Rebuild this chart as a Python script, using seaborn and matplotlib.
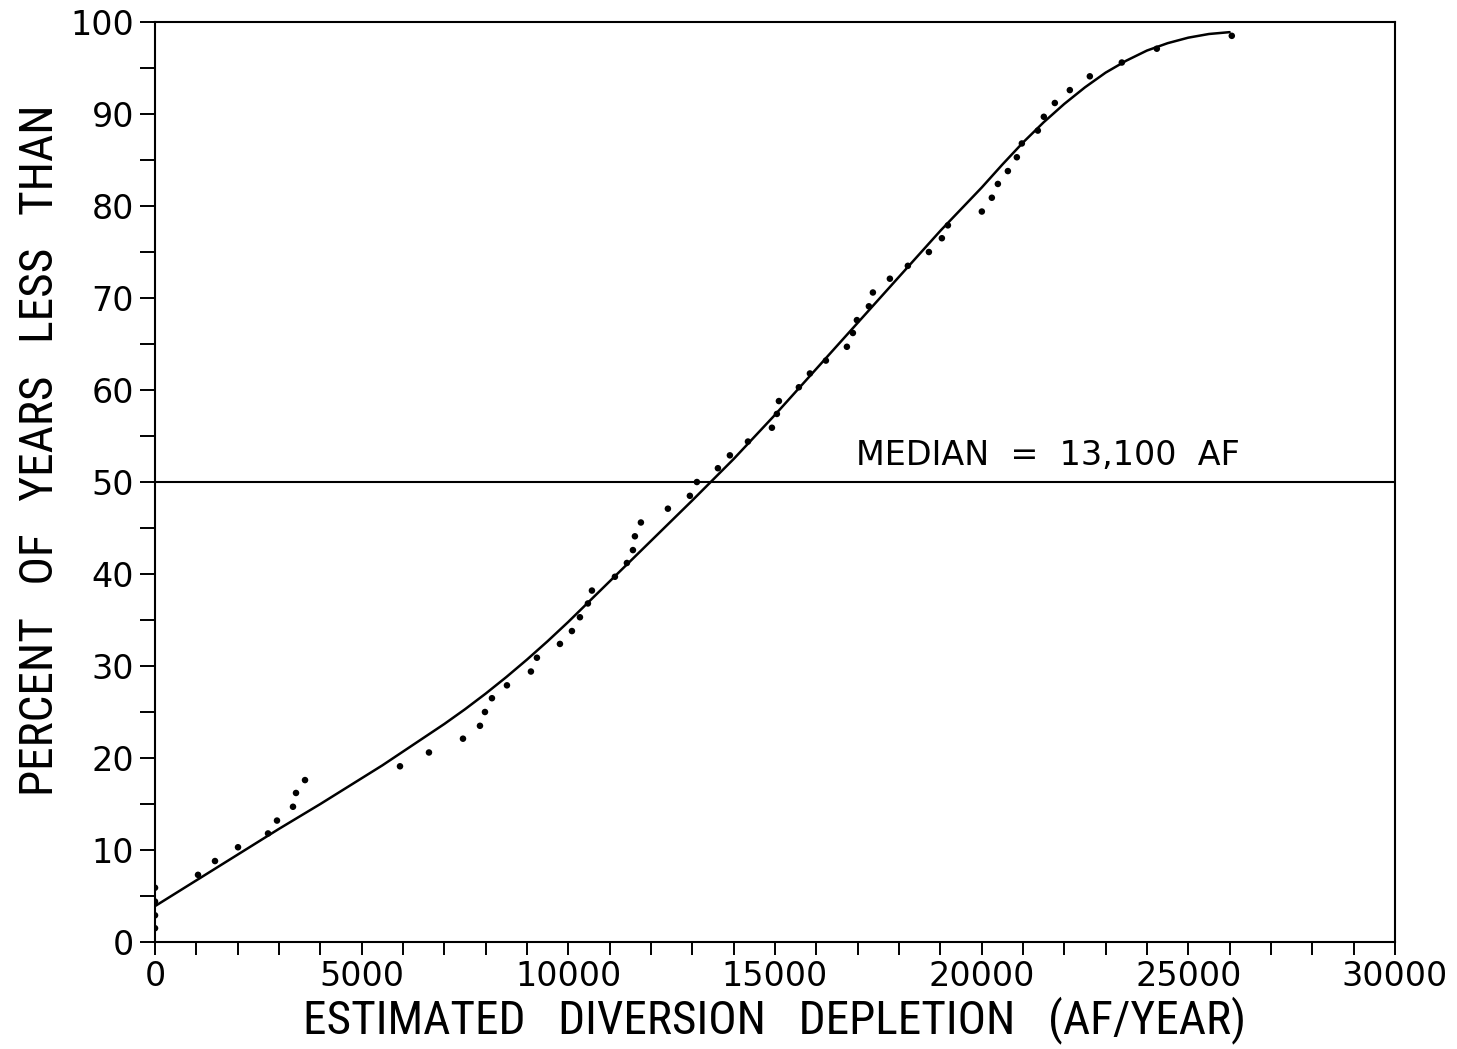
import matplotlib
matplotlib.use("Agg")
import matplotlib.pyplot as plt
import seaborn as sns
import pandas as pd
from matplotlib.ticker import MultipleLocator
from matplotlib import font_manager

# observed annual diversion depletions (AF/year), sorted, with plotting position (%)
depletion = [0, 0, 0, 0, 1040, 1451, 2008, 2734, 2951, 3338, 3411, 3629,
             5927, 6628, 7451, 7862, 7983, 8152, 8515, 9095, 9240, 9797,
             10087, 10281, 10474, 10571, 11127, 11417, 11563, 11611, 11756,
             12409, 12941, 13111, 13619, 13909, 14346, 14926, 15046, 15095,
             15578, 15845, 16232, 16740, 16885, 16982, 17272, 17369, 17780,
             18215, 18724, 19038, 19184, 20005, 20247, 20393, 20635, 20852,
             20973, 21360, 21505, 21771, 22134, 22618, 23392, 24239, 26053]
percent_less = [1.5, 2.9, 4.4, 5.9, 7.3, 8.8, 10.3, 11.8, 13.2, 14.7, 16.2, 17.6,
                19.1, 20.6, 22.1, 23.5, 25.0, 26.5, 27.9, 29.4, 30.9, 32.4,
                33.8, 35.3, 36.8, 38.2, 39.7, 41.2, 42.6, 44.1, 45.6,
                47.1, 48.5, 50.0, 51.5, 52.9, 54.4, 55.9, 57.4, 58.8,
                60.3, 61.8, 63.2, 64.7, 66.2, 67.6, 69.1, 70.6, 72.1,
                73.5, 75.0, 76.5, 77.9, 79.4, 80.9, 82.4, 83.8, 85.3,
                86.8, 88.2, 89.7, 91.2, 92.6, 94.1, 95.6, 97.1, 98.5]

# fitted curve
fit_x = [0, 1000, 2000, 3000, 4000, 5000, 5500, 6000, 6500, 7000, 7500,
         8000, 8500, 9000, 9500, 10000, 10500, 11000, 11500, 12000, 13000,
         14000, 15000, 16000, 17000, 18000, 19000, 20000, 20500, 21000,
         21500, 22000, 22500, 23000, 23500, 24000, 24500, 25000, 25500, 26000]
fit_y = [3.9, 6.7, 9.5, 12.3, 15.0, 17.8, 19.2, 20.7, 22.2, 23.7, 25.3,
         27.0, 28.8, 30.7, 32.7, 34.8, 37.0, 39.2, 41.4, 43.6, 48.0,
         52.5, 57.3, 62.3, 67.3, 72.3, 77.3, 82.0, 84.5, 86.9,
         89.1, 91.1, 92.9, 94.5, 95.8, 96.9, 97.7, 98.3, 98.7, 98.9]

median_level = 50
median_text = "MEDIAN  =  13,100  AF"

sns.set_style("ticks")
plt.rcParams['font.family'] = ['DejaVu Sans']
plt.rcParams['text.color'] = 'black'
plt.rcParams['xtick.color'] = 'black'
plt.rcParams['ytick.color'] = 'black'
plt.rcParams['axes.labelcolor'] = 'black'

# narrow face for the axis titles if one is installed
names = {f.name for f in font_manager.fontManager.ttflist}
label_font = [n for n in ['DejaVu Sans Condensed', 'Liberation Sans Narrow',
                          'Roboto Condensed', 'Open Sans Condensed'] if n in names]
label_font = label_font + ['DejaVu Sans']

pts = pd.DataFrame({'depletion': depletion, 'percent': percent_less})
fit = pd.DataFrame({'depletion': fit_x, 'percent': fit_y})

fig = plt.figure(figsize=(14.57, 10.49), dpi=100)
ax = fig.add_axes([0.1064, 0.1020, 0.8510, 0.8770])

sns.lineplot(data=fit, x='depletion', y='percent', color='black', linewidth=1.8, ax=ax)
sns.scatterplot(data=pts, x='depletion', y='percent', color='black', s=22,
                edgecolor='none', ax=ax, zorder=3)
ax.axhline(median_level, color='black', linewidth=1.5)
ax.text(16950, median_level + 1.1, median_text, fontsize=24, ha='left', va='bottom')

ax.set_xlim(0, 30000)
ax.set_ylim(0, 100)
ax.xaxis.set_major_locator(MultipleLocator(5000))
ax.xaxis.set_minor_locator(MultipleLocator(1000))
ax.yaxis.set_major_locator(MultipleLocator(10))
ax.yaxis.set_minor_locator(MultipleLocator(5))
ax.tick_params(axis='both', which='both', direction='out', width=1.4, color='black')
ax.tick_params(axis='x', which='both', length=9, labelsize=24, pad=4)
ax.tick_params(axis='y', which='both', length=11, labelsize=24, pad=4)

for s in ax.spines.values():
    s.set_linewidth(1.5)
    s.set_color('black')

ax.set_xlabel('ESTIMATED   DIVERSION   DEPLETION   (AF/YEAR)', fontsize=34,
              family=label_font, labelpad=2)
ax.set_ylabel('PERCENT   OF   YEARS   LESS   THAN', fontsize=34,
              family=label_font)
ax.yaxis.set_label_coords(-0.075, 0.535)

fig.savefig('out.png', dpi=100, facecolor='white')
